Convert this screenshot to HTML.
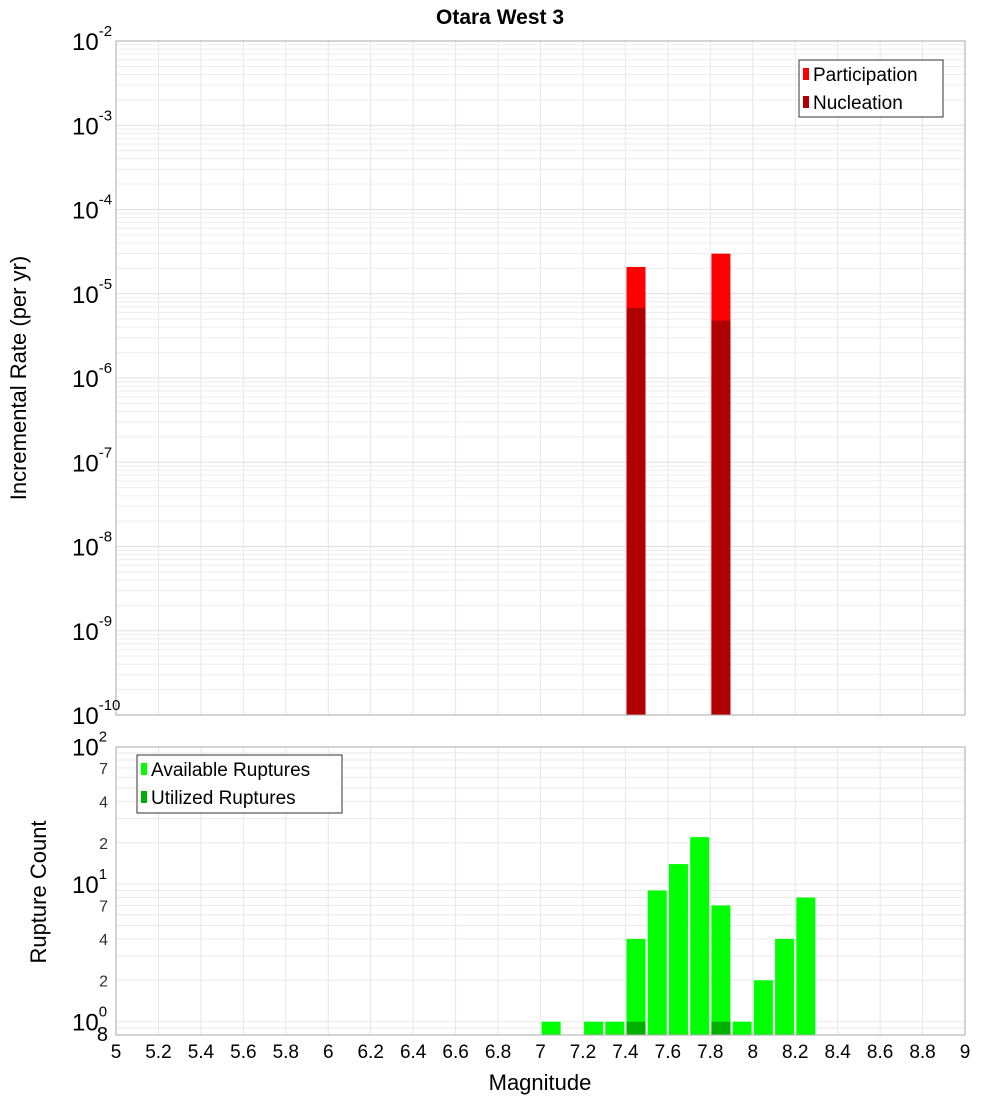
<!DOCTYPE html>
<html><head><meta charset="utf-8"><style>
html,body{margin:0;padding:0;background:#fff;}
svg{display:block;font-family:"Liberation Sans","DejaVu Sans",sans-serif;}
</style></head><body>
<svg id="chart" width="1000" height="1100" xmlns="http://www.w3.org/2000/svg">
<text x="500" y="24" text-anchor="middle" font-size="21" font-weight="bold">Otara West 3</text>
<g id="top"></g><g id="bot"></g>
</svg>
<script>
// top chart data
const topMags = [7.45, 7.85];
const participation = [2.08e-5, 2.99e-5];
const nucleation = [6.8e-6, 4.8e-6];
const topExps = [-2,-3,-4,-5,-6,-7,-8,-9,-10];
// bottom chart data
const botMags = [7.05, 7.25, 7.35, 7.45, 7.55, 7.65, 7.75, 7.85, 7.95, 8.05, 8.15, 8.25];
const available = [1, 1, 1, 4, 9, 14, 22, 7, 1, 2, 4, 8];
const utilized = [0, 0, 0, 1, 0, 0, 0, 1, 0, 0, 0, 0];
const xTicks = [5,5.2,5.4,5.6,5.8,6,6.2,6.4,6.6,6.8,7,7.2,7.4,7.6,7.8,8,8.2,8.4,8.6,8.8,9];
const botExps = [0,1,2];
const botMinorLabels = [2,4,7];

const NS="http://www.w3.org/2000/svg";
const svg=document.getElementById('chart');
function mk(parent,tag,attrs,name){const e=document.createElementNS(NS,tag);for(const k in attrs)e.setAttribute(k,attrs[k]);


parent.appendChild(e);return e;}
const L=116,R=965;
const x=m=>L+(m-5)/4*(R-L);
// top axis
const tT=41,tB=715;
const yT=v=>tT+(-2-Math.log10(v))/8*(tB-tT);
// bottom axis
const bT=747,bB=1035;
const yB=v=>1021.7-Math.log10(v)*137.5;

const gt=document.getElementById('top'), gb=document.getElementById('bot');
mk(gt,'rect',{x:L,y:tT,width:R-L,height:tB-tT,fill:'#fff'},'top-plot-area');
mk(gb,'rect',{x:L,y:bT,width:R-L,height:bB-bT,fill:'#fff'},'bottom-plot-area');
// gridlines
xTicks.forEach(t=>{
 mk(gt,'line',{x1:x(t),x2:x(t),y1:tT,y2:tB,stroke:'#e6e6e6'},'top-x-gridline');
 mk(gb,'line',{x1:x(t),x2:x(t),y1:bT,y2:bB,stroke:'#e6e6e6'},'bottom-x-gridline');
});
for(let e=-10;e<-2;e++)for(let k=1;k<10;k++){const y=yT(k*Math.pow(10,e));
 mk(gt,'line',{x1:L,x2:R,y1:y,y2:y,stroke:k==1?'#e0e0e0':'#eeeeee'},'top-y-gridline');}
for(let e=-1;e<2;e++)for(let k=1;k<10;k++){const v=k*Math.pow(10,e);if(v<0.8||v>100)continue;const y=yB(v);
 mk(gb,'line',{x1:L,x2:R,y1:y,y2:y,stroke:'#eaeaea'},'bottom-y-gridline');}
// top bars
topMags.forEach((m,i)=>{
 mk(gt,'rect',{x:x(m)-9.5,y:yT(participation[i]),width:19,height:tB-yT(participation[i]),fill:'#ff0000'},'participation-bar');
 mk(gt,'rect',{x:x(m)-9.5,y:yT(nucleation[i]),width:19,height:tB-yT(nucleation[i]),fill:'#b00000'},'nucleation-bar');
});
// bottom bars
botMags.forEach((m,i)=>{
 mk(gb,'rect',{x:x(m)-9.5,y:yB(available[i]),width:19,height:bB-yB(available[i]),fill:'#00ff00'},'available-bar');
 if(utilized[i]>0) mk(gb,'rect',{x:x(m)-9.5,y:yB(utilized[i]),width:19,height:bB-yB(utilized[i]),fill:'#00b000'},'utilized-bar');
});
mk(gt,'rect',{x:L,y:tT,width:R-L,height:tB-tT,fill:'none',stroke:'#aaa'},'top-plot-border');
mk(gb,'rect',{x:L,y:bT,width:R-L,height:bB-bT,fill:'none',stroke:'#aaa'},'bottom-plot-border');
// y labels top
function pow(parent,e,y,name){const t=mk(parent,'text',{x:72,y:y+9,'font-size':24},name);
 t.textContent='10';const s=mk(t,'tspan',{dy:-14,'font-size':15},name+'-exp');s.textContent=String(e);}
topExps.forEach(e=>pow(gt,e,yT(Math.pow(10,e)),'top-y-tick-label'));
botExps.forEach(e=>pow(gb,e,yB(Math.pow(10,e)),'bottom-y-tick-label'));
for(let e=0;e<2;e++)botMinorLabels.forEach(k=>{const t=mk(gb,'text',{x:108,y:yB(k*Math.pow(10,e))+6,'font-size':16,'text-anchor':'end',fill:'#333'},'bottom-y-minor-label');t.textContent=String(k);});
{const t=mk(gb,'text',{x:108,y:1041,'font-size':20,'text-anchor':'end'},'bottom-y-min-label');t.textContent='8';}
// x labels
xTicks.forEach(t=>{const e=mk(gb,'text',{x:x(t),y:1058,'font-size':19,'text-anchor':'middle'},'x-tick-label');e.textContent=String(t);});
{const t=mk(svg,'text',{x:540,y:1090,'font-size':22,'text-anchor':'middle'},'x-axis-title');t.textContent='Magnitude';}
{const t=mk(svg,'text',{x:0,y:0,'font-size':22,'text-anchor':'middle',transform:'translate(26,378) rotate(-90)'},'top-y-axis-title');t.textContent='Incremental Rate (per yr)';}
{const t=mk(svg,'text',{x:0,y:0,'font-size':22,'text-anchor':'middle',transform:'translate(46,892) rotate(-90)'},'bottom-y-axis-title');t.textContent='Rupture Count';}
// legends
function legend(parent,x0,y0,w,h,items,name){mk(parent,'rect',{x:x0,y:y0,width:w,height:h,fill:'#fff',stroke:'#333'},name);
 items.forEach((it,i)=>{const y=y0+14+i*28;
  mk(parent,'rect',{x:x0+4,y:y-6,width:6,height:12,fill:it[1]},name+'-swatch');
  const t=mk(parent,'text',{x:x0+14,y:y+7,'font-size':19},name+'-label');t.textContent=it[0];});}
legend(gt,799,60,144,57,[['Participation','#ff0000'],['Nucleation','#b00000']],'top-legend');
legend(gb,137,755,205,58,[['Available Ruptures','#00ff00'],['Utilized Ruptures','#00b000']],'bottom-legend');
</script>
</body></html>
